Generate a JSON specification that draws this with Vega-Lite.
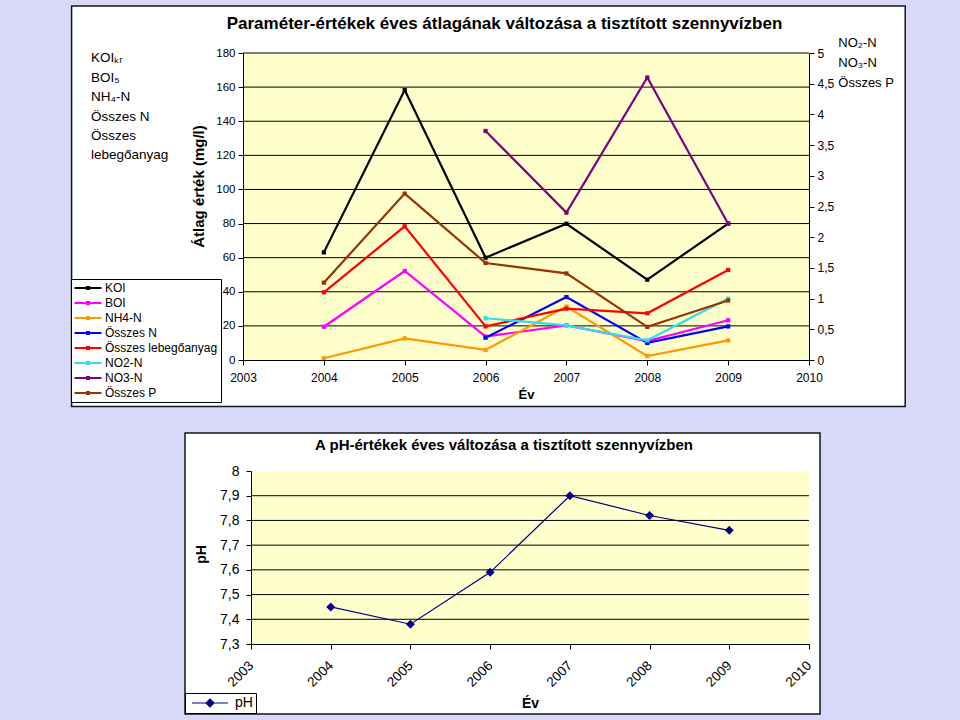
{
  "$schema": "https://vega.github.io/schema/vega-lite/v6.json",
  "background": "#D8D8FB",
  "padding": {"left": 70, "top": 5, "right": 55, "bottom": 7},
  "autosize": {"type": "pad"},
  "config": {
    "font": "Liberation Sans",
    "view": {"stroke": null},
    "locale": {"number": {"decimal": ",", "thousands": " ", "grouping": [3], "currency": ["", ""]}},
    "axis": {"zindex": 1, "domainColor": "#000000", "tickColor": "#000000", "labelColor": "#000000", "titleColor": "#000000", "grid": false, "labelFont": "Liberation Sans", "titleFont": "Liberation Sans", "labelFlush": false, "labelOverlap": false}
  },
  "datasets": {
    "series": [
      {"year": 2004, "s": "KOI", "v": 63.1},
      {"year": 2005, "s": "KOI", "v": 158.3},
      {"year": 2006, "s": "KOI", "v": 60.0},
      {"year": 2007, "s": "KOI", "v": 79.9},
      {"year": 2008, "s": "KOI", "v": 47.1},
      {"year": 2009, "s": "KOI", "v": 80.0},
      {"year": 2004, "s": "BOI", "v": 19.5},
      {"year": 2005, "s": "BOI", "v": 52.2},
      {"year": 2006, "s": "BOI", "v": 13.7},
      {"year": 2007, "s": "BOI", "v": 20.3},
      {"year": 2008, "s": "BOI", "v": 11.1},
      {"year": 2009, "s": "BOI", "v": 23.3},
      {"year": 2004, "s": "NH4-N", "v": 1.0},
      {"year": 2005, "s": "NH4-N", "v": 12.7},
      {"year": 2006, "s": "NH4-N", "v": 5.9},
      {"year": 2007, "s": "NH4-N", "v": 31.3},
      {"year": 2008, "s": "NH4-N", "v": 2.3},
      {"year": 2009, "s": "NH4-N", "v": 11.5},
      {"year": 2006, "s": "Összes N", "v": 13.1},
      {"year": 2007, "s": "Összes N", "v": 36.9},
      {"year": 2008, "s": "Összes N", "v": 10.0},
      {"year": 2009, "s": "Összes N", "v": 19.7},
      {"year": 2004, "s": "Összes lebegőanyag", "v": 39.7},
      {"year": 2005, "s": "Összes lebegőanyag", "v": 78.4},
      {"year": 2006, "s": "Összes lebegőanyag", "v": 19.7},
      {"year": 2007, "s": "Összes lebegőanyag", "v": 30.1},
      {"year": 2008, "s": "Összes lebegőanyag", "v": 27.4},
      {"year": 2009, "s": "Összes lebegőanyag", "v": 52.8},
      {"year": 2006, "s": "NO2-N", "v": 0.68},
      {"year": 2007, "s": "NO2-N", "v": 0.565},
      {"year": 2008, "s": "NO2-N", "v": 0.32},
      {"year": 2009, "s": "NO2-N", "v": 1.0},
      {"year": 2006, "s": "NO3-N", "v": 3.73},
      {"year": 2007, "s": "NO3-N", "v": 2.40},
      {"year": 2008, "s": "NO3-N", "v": 4.60},
      {"year": 2009, "s": "NO3-N", "v": 2.22},
      {"year": 2004, "s": "Összes P", "v": 1.26},
      {"year": 2005, "s": "Összes P", "v": 2.71},
      {"year": 2006, "s": "Összes P", "v": 1.58},
      {"year": 2007, "s": "Összes P", "v": 1.41},
      {"year": 2008, "s": "Összes P", "v": 0.54},
      {"year": 2009, "s": "Összes P", "v": 0.97}
    ],
    "ph": [
      {"year": 2004, "pH": 7.45},
      {"year": 2005, "pH": 7.38},
      {"year": 2006, "pH": 7.59},
      {"year": 2007, "pH": 7.90},
      {"year": 2008, "pH": 7.82},
      {"year": 2009, "pH": 7.76}
    ],
    "box": [{}],
    "grid1": [{"g": 20}, {"g": 40}, {"g": 60}, {"g": 80}, {"g": 100}, {"g": 120}, {"g": 140}, {"g": 160}, {"g": 180}],
    "grid2": [{"g": 7.4}, {"g": 7.5}, {"g": 7.6}, {"g": 7.7}, {"g": 7.8}, {"g": 7.9}]
  },
  "resolve": {"scale": {"color": "independent"}, "legend": {"color": "independent"}},
  "bounds": "flush",
  "spacing": 111,
  "vconcat": [
    {
      "width": 566,
      "height": 307,
      "resolve": {"scale": {"x": "independent", "y": "independent"}, "axis": {"x": "independent", "y": "independent"}},
      "layer": [
        {
          "data": {"name": "box"},
          "mark": {"type": "rect", "fill": "#FFFFFF", "stroke": "#141414", "strokeWidth": 1.5},
          "encoding": {
            "x": {"datum": 2000.88, "type": "quantitative", "scale": {"domain": [2003, 2010], "nice": false, "zero": false}, "axis": null},
            "x2": {"datum": 2011.19},
            "y": {"datum": 207.56, "type": "quantitative", "scale": {"domain": [0, 180], "nice": false, "zero": false}, "axis": null},
            "y2": {"datum": -27.26}
          }
        },
        {
          "data": {"name": "box"},
          "mark": {"type": "rect", "fill": "#FFFFCC"},
          "encoding": {
            "x": {"datum": 2003, "type": "quantitative", "scale": {"domain": [2003, 2010], "nice": false, "zero": false}, "axis": null},
            "x2": {"datum": 2010},
            "y": {"datum": 0, "type": "quantitative", "scale": {"domain": [0, 180], "nice": false, "zero": false}, "axis": null},
            "y2": {"datum": 180}
          }
        },
        {
          "data": {"name": "grid1"},
          "mark": {"type": "rule", "color": "#000000", "strokeWidth": 1},
          "encoding": {
            "x": {"datum": 2003, "type": "quantitative", "scale": {"domain": [2003, 2010], "nice": false, "zero": false}, "axis": null},
            "x2": {"datum": 2010},
            "y": {"field": "g", "type": "quantitative", "scale": {"domain": [0, 180], "nice": false, "zero": false}, "axis": null}
          }
        },
        {
          "data": {"name": "series"},
          "transform": [{"filter": {"field": "s", "oneOf": ["KOI", "BOI", "NH4-N", "Összes N", "Összes lebegőanyag"]}}],
          "mark": {"type": "line", "strokeWidth": 2.2, "point": {"shape": "square", "size": 18, "filled": true}},
          "encoding": {
            "x": {"field": "year", "type": "quantitative", "scale": {"domain": [2003, 2010], "nice": false, "zero": false},
              "axis": {"orient": "bottom", "values": [2003, 2004, 2005, 2006, 2007, 2008, 2009, 2010], "format": "d", "title": "Év", "titleFontSize": 13, "titleFontWeight": "bold", "titleY": 34, "titleBaseline": "middle", "labelFontSize": 12, "tickSize": 5, "labelPadding": 7, "zindex": 1}},
            "y": {"field": "v", "type": "quantitative", "scale": {"domain": [0, 180], "nice": false, "zero": false},
              "axis": {"orient": "left", "values": [0, 20, 40, 60, 80, 100, 120, 140, 160, 180], "format": "d", "title": "Átlag érték (mg/l)", "titleFontSize": 15, "titleFontWeight": "bold", "titleX": -45, "titleY": 133, "titleAngle": -90, "titleAlign": "center", "titleBaseline": "middle", "labelFontSize": 11.5, "tickSize": 5, "labelPadding": 3, "zindex": 1}},
            "color": {"field": "s", "type": "nominal",
              "scale": {"domain": ["KOI", "BOI", "NH4-N", "Összes N", "Összes lebegőanyag", "NO2-N", "NO3-N", "Összes P"], "range": ["#000000", "#FF00FF", "#FF9900", "#0000FF", "#FF0000", "#33DDEE", "#800080", "#993300"]},
              "legend": {"orient": "none", "legendX": -172, "legendY": 226, "title": null, "direction": "vertical", "fillColor": "#FFFFFF", "strokeColor": "#000000", "padding": 3, "labelFontSize": 12, "labelColor": "#000000", "labelLimit": 0, "rowPadding": 3, "symbolType": "M-2.7,0H2.7M-0.2,-0.2H0.2V0.2H-0.2Z", "symbolSize": 100, "symbolStrokeWidth": 2, "symbolOffset": 8, "labelOffset": 11}}
          }
        },
        {
          "data": {"name": "series"},
          "transform": [{"filter": {"field": "s", "oneOf": ["NO2-N", "NO3-N", "Összes P"]}}],
          "mark": {"type": "line", "strokeWidth": 2.2, "point": {"shape": "square", "size": 18, "filled": true}},
          "encoding": {
            "x": {"field": "year", "type": "quantitative", "scale": {"domain": [2003, 2010], "nice": false, "zero": false}, "axis": null},
            "y": {"field": "v", "type": "quantitative", "scale": {"domain": [0, 5], "nice": false, "zero": false},
              "axis": {"orient": "right", "values": [0, 0.5, 1, 1.5, 2, 2.5, 3, 3.5, 4, 4.5, 5], "format": ".1~f", "title": null, "labelFontSize": 12, "tickSize": 5, "labelPadding": 3, "zindex": 1}},
            "color": {"field": "s", "type": "nominal",
              "scale": {"domain": ["KOI", "BOI", "NH4-N", "Összes N", "Összes lebegőanyag", "NO2-N", "NO3-N", "Összes P"], "range": ["#000000", "#FF00FF", "#FF9900", "#0000FF", "#FF0000", "#33DDEE", "#800080", "#993300"]},
              "legend": {"orient": "none", "legendX": -172, "legendY": 226, "title": null, "direction": "vertical", "fillColor": "#FFFFFF", "strokeColor": "#000000", "padding": 3, "labelFontSize": 12, "labelColor": "#000000", "labelLimit": 0, "rowPadding": 3, "symbolType": "M-2.7,0H2.7M-0.2,-0.2H0.2V0.2H-0.2Z", "symbolSize": 100, "symbolStrokeWidth": 2, "symbolOffset": 8, "labelOffset": 11}}
          }
        },
        {
          "data": {"name": "box"},
          "mark": {"type": "text", "text": "Paraméter-értékek éves átlagának változása a tisztított szennyvízben", "fontSize": 17, "fontWeight": "bold", "align": "center", "baseline": "alphabetic", "color": "#000000"},
          "encoding": {
            "x": {"datum": 2006.234, "type": "quantitative", "scale": {"domain": [2003, 2010], "nice": false, "zero": false}, "axis": null},
            "y": {"datum": 194.07, "type": "quantitative", "scale": {"domain": [0, 180], "nice": false, "zero": false}, "axis": null}
          }
        },
        {
          "data": {"name": "box"},
          "mark": {"type": "text", "text": ["KOIₖᵣ", "BOI₅", "NH₄-N", "Összes N", "Összes", "lebegőanyag"], "lineHeight": 19.4, "fontSize": 13.5, "align": "left", "baseline": "alphabetic", "color": "#000000"},
          "encoding": {
            "x": {"datum": 2001.12, "type": "quantitative", "scale": {"domain": [2003, 2010], "nice": false, "zero": false}, "axis": null},
            "y": {"datum": 174.43, "type": "quantitative", "scale": {"domain": [0, 180], "nice": false, "zero": false}, "axis": null}
          }
        },
        {
          "data": {"name": "box"},
          "mark": {"type": "text", "text": ["NO₂-N", "NO₃-N", "Összes P"], "lineHeight": 20, "fontSize": 13, "align": "left", "baseline": "alphabetic", "color": "#000000"},
          "encoding": {
            "x": {"datum": 2010.362, "type": "quantitative", "scale": {"domain": [2003, 2010], "nice": false, "zero": false}, "axis": null},
            "y": {"datum": 183.69, "type": "quantitative", "scale": {"domain": [0, 180], "nice": false, "zero": false}, "axis": null}
          }
        }
      ]
    },
    {
      "bounds": "flush",
      "spacing": 0,
      "resolve": {"scale": {"color": "independent"}, "legend": {"color": "independent"}},
      "hconcat": [
        {"width": 8, "height": 10, "data": {"values": []}, "mark": "point"},
        {
          "width": 558,
          "height": 173,
          "resolve": {"scale": {"x": "independent", "y": "independent"}, "axis": {"x": "independent", "y": "independent"}},
          "layer": [
            {
              "data": {"name": "box"},
              "mark": {"type": "rect", "fill": "#FFFFFF", "stroke": "#141414", "strokeWidth": 1.5},
              "encoding": {
                "x": {"datum": 2002.172, "type": "quantitative", "scale": {"domain": [2003, 2010], "nice": false, "zero": false}, "axis": null},
                "x2": {"datum": 2010.138},
                "y": {"datum": 8.1538, "type": "quantitative", "scale": {"domain": [7.3, 8], "nice": false, "zero": false}, "axis": null},
                "y2": {"datum": 7.0168}
              }
            },
            {
              "data": {"name": "box"},
              "mark": {"type": "rect", "fill": "#FFFFCC"},
              "encoding": {
                "x": {"datum": 2003, "type": "quantitative", "scale": {"domain": [2003, 2010], "nice": false, "zero": false}, "axis": null},
                "x2": {"datum": 2010},
                "y": {"datum": 7.3, "type": "quantitative", "scale": {"domain": [7.3, 8], "nice": false, "zero": false}, "axis": null},
                "y2": {"datum": 8}
              }
            },
            {
              "data": {"name": "grid2"},
              "mark": {"type": "rule", "color": "#000000", "strokeWidth": 1},
              "encoding": {
                "x": {"datum": 2003, "type": "quantitative", "scale": {"domain": [2003, 2010], "nice": false, "zero": false}, "axis": null},
                "x2": {"datum": 2010},
                "y": {"field": "g", "type": "quantitative", "scale": {"domain": [7.3, 8], "nice": false, "zero": false}, "axis": null}
              }
            },
            {
              "data": {"name": "ph"},
              "mark": {"type": "line", "strokeWidth": 1.2, "point": {"shape": "diamond", "size": 80, "filled": true}},
              "encoding": {
                "x": {"field": "year", "type": "quantitative", "scale": {"domain": [2003, 2010], "nice": false, "zero": false},
                  "axis": {"orient": "bottom", "values": [2003, 2004, 2005, 2006, 2007, 2008, 2009, 2010], "format": "d", "title": "Év", "titleFontSize": 14, "titleFontWeight": "bold", "titleY": 59, "titleBaseline": "middle", "labelAngle": -45, "labelAlign": "right", "labelBaseline": "middle", "labelFontSize": 13.5, "tickSize": 5, "labelPadding": 14, "labelDx": -13, "zindex": 1}},
                "y": {"field": "pH", "type": "quantitative", "scale": {"domain": [7.3, 8], "nice": false, "zero": false},
                  "axis": {"orient": "left", "values": [7.3, 7.4, 7.5, 7.6, 7.7, 7.8, 7.9, 8], "format": ".1~f", "title": "pH", "titleFontSize": 14, "titleFontWeight": "bold", "titleX": -50, "titleY": 83, "titleAngle": -90, "titleAlign": "center", "titleBaseline": "middle", "labelFontSize": 14, "tickSize": 5, "labelPadding": 7, "zindex": 1}},
                "color": {"datum": "pH", "type": "nominal",
                  "scale": {"domain": ["pH"], "range": ["#000080"]},
                  "legend": {"orient": "none", "legendX": -66, "legendY": 222, "title": null, "fillColor": "#FFFFFF", "strokeColor": "#000000", "padding": 3, "labelFontSize": 14, "labelColor": "#000000", "symbolType": "M-3.6,0H3.6M0,-0.8L0.8,0L0,0.8L-0.8,0Z", "symbolSize": 100, "symbolStrokeWidth": 1.2, "symbolFillColor": "#000080", "symbolStrokeColor": "#000080", "symbolOffset": 15, "labelOffset": 18}}
              }
            },
            {
              "data": {"name": "box"},
              "mark": {"type": "text", "text": "A pH-értékek éves változása a tisztított szennyvízben", "fontSize": 15, "fontWeight": "bold", "align": "center", "baseline": "alphabetic", "color": "#000000"},
              "encoding": {
                "x": {"datum": 2006.174, "type": "quantitative", "scale": {"domain": [2003, 2010], "nice": false, "zero": false}, "axis": null},
                "y": {"datum": 8.0834, "type": "quantitative", "scale": {"domain": [7.3, 8], "nice": false, "zero": false}, "axis": null}
              }
            }
          ]
        }
      ]
    }
  ]
}
